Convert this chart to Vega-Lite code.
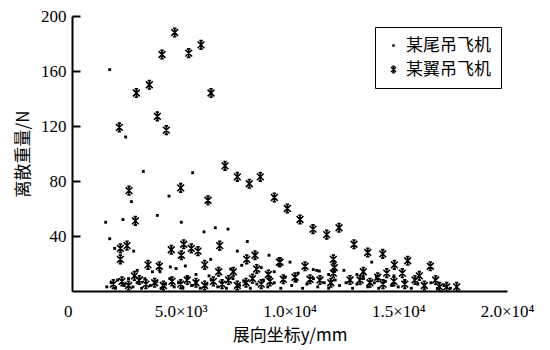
{
  "$schema": "https://vega.github.io/schema/vega-lite/v6.json",
  "width": 435,
  "height": 275,
  "autosize": {"type": "none"},
  "padding": {"left": 72, "top": 16, "right": 43, "bottom": 59},
  "background": "white",
  "config": {
    "view": {"stroke": null},
    "axis": {"domainColor": "black", "domainWidth": 2, "tickColor": "black", "tickWidth": 2, "labelColor": "black", "titleColor": "black", "grid": false, "labelFontSize": 17, "titleFontSize": 17, "titleFontWeight": "normal"},
    "legend": {"strokeColor": "black"}
  },
  "resolve": {"axis": {"y": "independent"}},
  "datasets": {
    "ytk": [{"F": 40}, {"F": 80}, {"F": 120}, {"F": 160}, {"F": 200}],
    "pts": [
    {"y": 1733, "F": 161, "t": "某尾吊飞机"},
    {"y": 2468, "F": 112, "t": "某尾吊飞机"},
    {"y": 3279, "F": 87, "t": "某尾吊飞机"},
    {"y": 5548, "F": 86, "t": "某尾吊飞机"},
    {"y": 2731, "F": 65, "t": "某尾吊飞机"},
    {"y": 4460, "F": 69, "t": "某尾吊飞机"},
    {"y": 1548, "F": 50, "t": "某尾吊飞机"},
    {"y": 2345, "F": 52, "t": "某尾吊飞机"},
    {"y": 3924, "F": 55, "t": "某尾吊飞机"},
    {"y": 5025, "F": 50, "t": "某尾吊飞机"},
    {"y": 6069, "F": 43, "t": "某尾吊飞机"},
    {"y": 6588, "F": 46, "t": "某尾吊飞机"},
    {"y": 7173, "F": 45, "t": "某尾吊飞机"},
    {"y": 1733, "F": 38, "t": "某尾吊飞机"},
    {"y": 1963, "F": 31, "t": "某尾吊飞机"},
    {"y": 2835, "F": 29, "t": "某尾吊飞机"},
    {"y": 4520, "F": 17.5, "t": "某尾吊飞机"},
    {"y": 4782, "F": 16.3, "t": "某尾吊飞机"},
    {"y": 5210, "F": 18.2, "t": "某尾吊飞机"},
    {"y": 6377, "F": 23, "t": "某尾吊飞机"},
    {"y": 7601, "F": 29, "t": "某尾吊飞机"},
    {"y": 8060, "F": 36, "t": "某尾吊飞机"},
    {"y": 9058, "F": 26, "t": "某尾吊飞机"},
    {"y": 10023, "F": 21, "t": "某尾吊飞机"},
    {"y": 11251, "F": 15, "t": "某尾吊飞机"},
    {"y": 11094, "F": 15.6, "t": "某尾吊飞机"},
    {"y": 11371, "F": 14.5, "t": "某尾吊飞机"},
    {"y": 13780, "F": 21, "t": "某尾吊飞机"},
    {"y": 4046, "F": 14, "t": "某尾吊飞机"},
    {"y": 7803, "F": 18.7, "t": "某尾吊飞机"},
    {"y": 7300, "F": 16, "t": "某尾吊飞机"},
    {"y": 8700, "F": 17, "t": "某尾吊飞机"},
    {"y": 9300, "F": 14, "t": "某尾吊飞机"},
    {"y": 10400, "F": 13, "t": "某尾吊飞机"},
    {"y": 11800, "F": 12, "t": "某尾吊飞机"},
    {"y": 12500, "F": 15, "t": "某尾吊飞机"},
    {"y": 13100, "F": 12, "t": "某尾吊飞机"},
    {"y": 14000, "F": 10, "t": "某尾吊飞机"},
    {"y": 14800, "F": 11, "t": "某尾吊飞机"},
    {"y": 3000, "F": 15, "t": "某尾吊飞机"},
    {"y": 3700, "F": 14, "t": "某尾吊飞机"},
    {"y": 5700, "F": 12, "t": "某尾吊飞机"},
    {"y": 6300, "F": 11, "t": "某尾吊飞机"},
    {"y": 1600, "F": 3, "t": "某尾吊飞机"},
    {"y": 1800, "F": 6, "t": "某尾吊飞机"},
    {"y": 2000, "F": 2, "t": "某尾吊飞机"},
    {"y": 2100, "F": 8, "t": "某尾吊飞机"},
    {"y": 2400, "F": 4, "t": "某尾吊飞机"},
    {"y": 2600, "F": 9, "t": "某尾吊飞机"},
    {"y": 2800, "F": 3, "t": "某尾吊飞机"},
    {"y": 3000, "F": 6, "t": "某尾吊飞机"},
    {"y": 3200, "F": 2, "t": "某尾吊飞机"},
    {"y": 3350, "F": 9, "t": "某尾吊飞机"},
    {"y": 3600, "F": 4, "t": "某尾吊飞机"},
    {"y": 3900, "F": 7, "t": "某尾吊飞机"},
    {"y": 4100, "F": 2, "t": "某尾吊飞机"},
    {"y": 4300, "F": 5, "t": "某尾吊飞机"},
    {"y": 4500, "F": 9, "t": "某尾吊飞机"},
    {"y": 4700, "F": 3, "t": "某尾吊飞机"},
    {"y": 4900, "F": 6, "t": "某尾吊飞机"},
    {"y": 5100, "F": 2, "t": "某尾吊飞机"},
    {"y": 5300, "F": 10, "t": "某尾吊飞机"},
    {"y": 5500, "F": 4, "t": "某尾吊飞机"},
    {"y": 5700, "F": 7, "t": "某尾吊飞机"},
    {"y": 5900, "F": 2, "t": "某尾吊飞机"},
    {"y": 6200, "F": 5, "t": "某尾吊飞机"},
    {"y": 6400, "F": 8, "t": "某尾吊飞机"},
    {"y": 6700, "F": 3, "t": "某尾吊飞机"},
    {"y": 6900, "F": 6, "t": "某尾吊飞机"},
    {"y": 7100, "F": 2, "t": "某尾吊飞机"},
    {"y": 7400, "F": 9, "t": "某尾吊飞机"},
    {"y": 7700, "F": 4, "t": "某尾吊飞机"},
    {"y": 7900, "F": 7, "t": "某尾吊飞机"},
    {"y": 8200, "F": 2, "t": "某尾吊飞机"},
    {"y": 8500, "F": 5, "t": "某尾吊飞机"},
    {"y": 8800, "F": 8, "t": "某尾吊飞机"},
    {"y": 9000, "F": 3, "t": "某尾吊飞机"},
    {"y": 9300, "F": 6, "t": "某尾吊飞机"},
    {"y": 9600, "F": 2, "t": "某尾吊飞机"},
    {"y": 9800, "F": 10, "t": "某尾吊飞机"},
    {"y": 10100, "F": 4, "t": "某尾吊飞机"},
    {"y": 10300, "F": 7, "t": "某尾吊飞机"},
    {"y": 10600, "F": 2, "t": "某尾吊飞机"},
    {"y": 10800, "F": 5, "t": "某尾吊飞机"},
    {"y": 11100, "F": 9, "t": "某尾吊飞机"},
    {"y": 11300, "F": 3, "t": "某尾吊飞机"},
    {"y": 11600, "F": 6, "t": "某尾吊飞机"},
    {"y": 11800, "F": 2, "t": "某尾吊飞机"},
    {"y": 12100, "F": 8, "t": "某尾吊飞机"},
    {"y": 12300, "F": 4, "t": "某尾吊飞机"},
    {"y": 12600, "F": 6, "t": "某尾吊飞机"},
    {"y": 12900, "F": 2, "t": "某尾吊飞机"},
    {"y": 13100, "F": 5, "t": "某尾吊飞机"},
    {"y": 13400, "F": 9, "t": "某尾吊飞机"},
    {"y": 13600, "F": 3, "t": "某尾吊飞机"},
    {"y": 13900, "F": 6, "t": "某尾吊飞机"},
    {"y": 14100, "F": 2, "t": "某尾吊飞机"},
    {"y": 14400, "F": 7, "t": "某尾吊飞机"},
    {"y": 14700, "F": 4, "t": "某尾吊飞机"},
    {"y": 15000, "F": 3, "t": "某尾吊飞机"},
    {"y": 15300, "F": 7, "t": "某尾吊飞机"},
    {"y": 15600, "F": 2, "t": "某尾吊飞机"},
    {"y": 15900, "F": 5, "t": "某尾吊飞机"},
    {"y": 16200, "F": 3, "t": "某尾吊飞机"},
    {"y": 16500, "F": 6, "t": "某尾吊飞机"},
    {"y": 16800, "F": 2, "t": "某尾吊飞机"},
    {"y": 17100, "F": 4, "t": "某尾吊飞机"},
    {"y": 17400, "F": 2, "t": "某尾吊飞机"},
    {"y": 4722, "F": 188, "t": "某翼吊飞机"},
    {"y": 5931, "F": 179, "t": "某翼吊飞机"},
    {"y": 4138, "F": 172, "t": "某翼吊飞机"},
    {"y": 5365, "F": 173, "t": "某翼吊飞机"},
    {"y": 3555, "F": 150, "t": "某翼吊飞机"},
    {"y": 2958, "F": 144, "t": "某翼吊飞机"},
    {"y": 6391, "F": 144, "t": "某翼吊飞机"},
    {"y": 3924, "F": 127, "t": "某翼吊飞机"},
    {"y": 2176, "F": 119, "t": "某翼吊飞机"},
    {"y": 4337, "F": 117, "t": "某翼吊飞机"},
    {"y": 7035, "F": 91, "t": "某翼吊飞机"},
    {"y": 2621, "F": 73, "t": "某翼吊飞机"},
    {"y": 4998, "F": 75, "t": "某翼吊飞机"},
    {"y": 6253, "F": 66, "t": "某翼吊飞机"},
    {"y": 2912, "F": 51, "t": "某翼吊飞机"},
    {"y": 7601, "F": 83, "t": "某翼吊飞机"},
    {"y": 8152, "F": 78, "t": "某翼吊飞机"},
    {"y": 8658, "F": 83, "t": "某翼吊飞机"},
    {"y": 9302, "F": 68, "t": "某翼吊飞机"},
    {"y": 9899, "F": 60, "t": "某翼吊飞机"},
    {"y": 10483, "F": 52, "t": "某翼吊飞机"},
    {"y": 11081, "F": 45, "t": "某翼吊飞机"},
    {"y": 11711, "F": 41, "t": "某翼吊飞机"},
    {"y": 12277, "F": 46, "t": "某翼吊飞机"},
    {"y": 12966, "F": 34, "t": "某翼吊飞机"},
    {"y": 13596, "F": 28, "t": "某翼吊飞机"},
    {"y": 14286, "F": 27, "t": "某翼吊飞机"},
    {"y": 14821, "F": 19, "t": "某翼吊飞机"},
    {"y": 15435, "F": 22, "t": "某翼吊飞机"},
    {"y": 16475, "F": 18, "t": "某翼吊飞机"},
    {"y": 15187, "F": 13, "t": "某翼吊飞机"},
    {"y": 15969, "F": 11, "t": "某翼吊飞机"},
    {"y": 16723, "F": 8, "t": "某翼吊飞机"},
    {"y": 12016, "F": 23, "t": "某翼吊飞机"},
    {"y": 12062, "F": 17, "t": "某翼吊飞机"},
    {"y": 12016, "F": 13, "t": "某翼吊飞机"},
    {"y": 9532, "F": 21, "t": "某翼吊飞机"},
    {"y": 10713, "F": 18, "t": "某翼吊飞机"},
    {"y": 13394, "F": 14, "t": "某翼吊飞机"},
    {"y": 14056, "F": 10, "t": "某翼吊飞机"},
    {"y": 14470, "F": 13, "t": "某翼吊飞机"},
    {"y": 2223, "F": 31, "t": "某翼吊飞机"},
    {"y": 2529, "F": 33, "t": "某翼吊飞机"},
    {"y": 2223, "F": 23, "t": "某翼吊飞机"},
    {"y": 4566, "F": 30, "t": "某翼吊飞机"},
    {"y": 5136, "F": 34, "t": "某翼吊飞机"},
    {"y": 5026, "F": 26, "t": "某翼吊飞机"},
    {"y": 5485, "F": 31, "t": "某翼吊飞机"},
    {"y": 5793, "F": 29, "t": "某翼吊飞机"},
    {"y": 3494, "F": 19, "t": "某翼吊飞机"},
    {"y": 4014, "F": 18, "t": "某翼吊飞机"},
    {"y": 6102, "F": 19, "t": "某翼吊飞机"},
    {"y": 6790, "F": 33, "t": "某翼吊飞机"},
    {"y": 2869, "F": 11, "t": "某翼吊飞机"},
    {"y": 6745, "F": 14, "t": "某翼吊飞机"},
    {"y": 8033, "F": 23, "t": "某翼吊飞机"},
    {"y": 8414, "F": 26, "t": "某翼吊飞机"},
    {"y": 9564, "F": 21, "t": "某翼吊飞机"},
    {"y": 8493, "F": 16, "t": "某翼吊飞机"},
    {"y": 7417, "F": 14, "t": "某翼吊飞机"},
    {"y": 9027, "F": 12, "t": "某翼吊飞机"},
    {"y": 1900, "F": 5, "t": "某翼吊飞机"},
    {"y": 2300, "F": 7, "t": "某翼吊飞机"},
    {"y": 2600, "F": 4, "t": "某翼吊飞机"},
    {"y": 3100, "F": 8, "t": "某翼吊飞机"},
    {"y": 3400, "F": 5, "t": "某翼吊飞机"},
    {"y": 3800, "F": 6, "t": "某翼吊飞机"},
    {"y": 4200, "F": 4, "t": "某翼吊飞机"},
    {"y": 4600, "F": 7, "t": "某翼吊飞机"},
    {"y": 5000, "F": 5, "t": "某翼吊飞机"},
    {"y": 5300, "F": 8, "t": "某翼吊飞机"},
    {"y": 5700, "F": 6, "t": "某翼吊飞机"},
    {"y": 6100, "F": 4, "t": "某翼吊飞机"},
    {"y": 6500, "F": 7, "t": "某翼吊飞机"},
    {"y": 6900, "F": 5, "t": "某翼吊飞机"},
    {"y": 7200, "F": 8, "t": "某翼吊飞机"},
    {"y": 7600, "F": 4, "t": "某翼吊飞机"},
    {"y": 8000, "F": 6, "t": "某翼吊飞机"},
    {"y": 8300, "F": 9, "t": "某翼吊飞机"},
    {"y": 8700, "F": 5, "t": "某翼吊飞机"},
    {"y": 9100, "F": 7, "t": "某翼吊飞机"},
    {"y": 9716, "F": 8.5, "t": "某翼吊飞机"},
    {"y": 10253, "F": 10, "t": "某翼吊飞机"},
    {"y": 10943, "F": 8.5, "t": "某翼吊飞机"},
    {"y": 11403, "F": 8, "t": "某翼吊飞机"},
    {"y": 11900, "F": 6, "t": "某翼吊飞机"},
    {"y": 12782, "F": 8, "t": "某翼吊飞机"},
    {"y": 13243, "F": 8, "t": "某翼吊飞机"},
    {"y": 13700, "F": 6, "t": "某翼吊飞机"},
    {"y": 14300, "F": 5, "t": "某翼吊飞机"},
    {"y": 14800, "F": 7, "t": "某翼吊飞机"},
    {"y": 15300, "F": 5, "t": "某翼吊飞机"},
    {"y": 15771, "F": 8, "t": "某翼吊飞机"},
    {"y": 16200, "F": 4, "t": "某翼吊飞机"},
    {"y": 16900, "F": 3, "t": "某翼吊飞机"},
    {"y": 17227, "F": 3, "t": "某翼吊飞机"},
    {"y": 17687, "F": 3, "t": "某翼吊飞机"}
  ]},
  "layer": [
    {
      "data": {"name": "pts"},
      "mark": {"type": "point", "filled": false, "strokeWidth": 1.6, "color": "black", "opacity": 1, "size": 72},
      "encoding": {
        "x": {
          "field": "y", "type": "quantitative",
          "scale": {"domain": [0, 20000], "nice": false, "zero": true},
          "axis": {
            "values": [0, 5000, 10000, 15000, 20000],
            "title": "展向坐标y/mm",
            "titleFont": "Noto Sans CJK SC",
            "titleColor": "black",
            "titlePadding": 8,
            "labelPadding": 12,
            "labelFont": "Liberation Serif",
            "ticks": false,
            "labelAlign": {"condition": {"test": "datum.value == 0", "value": "right"}, "value": "center"},
            "labelExpr": "datum.value == 0 ? '0' : datum.value == 5000 ? '5.0×10³' : datum.value == 10000 ? '1.0×10⁴' : datum.value == 15000 ? '1.5×10⁴' : '2.0×10⁴'"
          }
        },
        "y": {
          "field": "F", "type": "quantitative",
          "scale": {"domain": [0, 200], "nice": false},
          "axis": {
            "values": [40, 80, 120, 160, 200],
            "title": "离散重量/N",
            "titleFont": "Noto Sans CJK SC",
            "titleColor": "black",
            "titlePadding": 8,
            "labelFont": "Liberation Serif",
            "ticks": false,
            "labelPadding": 6
          }
        },
        "shape": {
          "field": "t", "type": "nominal",
          "scale": {"domain": ["某尾吊飞机", "某翼吊飞机"], "range": ["M-0.15,-0.15L0.15,-0.15L0.15,0.15L-0.15,0.15Z", "M-0.8,-0.8L0.8,0.8M0.8,-0.8L-0.8,0.8M0,-1L0,1M-0.4,-1L0.4,-1M-0.4,1L0.4,1"]},
          "legend": {
            "title": null,
            "orient": "none",
            "legendX": 303,
            "legendY": 11,
            "strokeColor": "black",
            "padding": 10,
            "labelFont": "Noto Sans CJK SC",
            "labelFontSize": 17,
            "labelColor": "black",
            "rowPadding": 6,
            "symbolStrokeColor": "black",
            "symbolSize": 40
          }
        }
      }
    },
    {
      "data": {"name": "ytk"},
      "mark": {"type": "point", "opacity": 0},
      "encoding": {
        "x": {"datum": 0, "type": "quantitative"},
        "y": {
          "field": "F", "type": "quantitative",
          "axis": {
            "orient": "right",
            "offset": -435,
            "values": [40, 80, 120, 160, 200],
            "labels": false,
            "title": null,
            "domain": false,
            "ticks": true,
            "tickSize": 8,
            "tickWidth": 2,
            "tickColor": "black"
          }
        }
      }
    }
  ]
}
